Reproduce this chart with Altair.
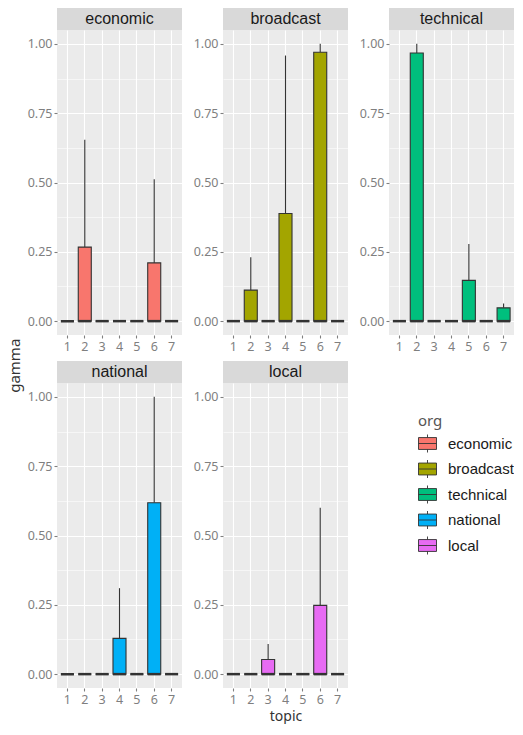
import altair as alt
import pandas as pd

orgs = ["economic", "broadcast", "technical", "national", "local"]
org_colors = ["#F8766D", "#A3A500", "#00BF7D", "#00B0F6", "#E76BF3"]
topics = [1, 2, 3, 4, 5, 6, 7]
y_ticks = [0, 0.125, 0.25, 0.375, 0.5, 0.625, 0.75, 0.875, 1.0]

# box statistics per org (q1 and median are 0 everywhere)
economic_q3 = [0, 0.267, 0, 0, 0, 0.210, 0]
economic_max = [0, 0.654, 0, 0, 0, 0.512, 0]
broadcast_q3 = [0, 0.112, 0, 0.388, 0, 0.970, 0]
broadcast_max = [0, 0.230, 0, 0.958, 0, 1.0, 0]
technical_q3 = [0, 0.967, 0, 0, 0.147, 0, 0.048]
technical_max = [0, 1.0, 0, 0, 0.278, 0, 0.064]
national_q3 = [0, 0, 0, 0.129, 0, 0.618, 0]
national_max = [0, 0, 0, 0.310, 0, 1.0, 0]
local_q3 = [0, 0, 0.053, 0, 0, 0.248, 0]
local_max = [0, 0, 0.109, 0, 0, 0.600, 0]
median_all = [0, 0, 0, 0, 0, 0, 0]
q1_all = [0, 0, 0, 0, 0, 0, 0]

stats = {
    "economic": (economic_q3, economic_max),
    "broadcast": (broadcast_q3, broadcast_max),
    "technical": (technical_q3, technical_max),
    "national": (national_q3, national_max),
    "local": (local_q3, local_max),
}

W = 125
H = 305
STRIP_H = 22
GRAY = "#7F7F7F"
DARK = "#333333"

major_test = "datum.value % 0.25 === 0"

legend_path = "M-1,-0.66H1V0.66H-1Z M-1,0H1 M0,-0.66V-1 M0,0.66V1"

color_scale = alt.Scale(domain=orgs, range=org_colors)
legend = alt.Legend(
    title="org", orient="none", legendX=361, legendY=406,
    symbolType=legend_path, symbolSize=324, symbolStrokeColor=DARK,
    symbolStrokeWidth=0.9, symbolOpacity=1,
    labelFont="Liberation Sans", labelFontSize=15, labelColor="#1A1A1A",
    labelOffset=11, rowPadding=2.5,
    titleFont="Noto Sans", titleFontSize=15, titleColor="#555555",
    titleFontWeight="normal", titlePadding=5,
)


def panel(org, x_title):
    q3, mx = stats[org]
    df = pd.DataFrame({
        "topic": topics, "q1": q1_all, "median": median_all,
        "q3": q3, "max": mx, "org": [org] * len(topics),
    })
    xscale = alt.Scale(domain=topics, paddingInner=0.25, paddingOuter=0.225)
    yscale = alt.Scale(domain=[-0.05, 1.05], nice=False, zero=False)
    xaxis = alt.Axis(
        title=x_title if x_title else None, labelAngle=0, bandPosition=0.5,
        domain=False, grid=True, gridColor="white", gridWidth=1.1,
        ticks=True, tickSize=3, tickColor=GRAY, tickWidth=1.1,
        labelFont="Noto Sans", labelFontSize=12.5, labelColor=GRAY,
        labelPadding=2, titleFont="Noto Sans", titleFontSize=14,
        titleColor=DARK, titleFontWeight="normal", titlePadding=4,
    )
    yaxis = alt.Axis(
        title=None, values=y_ticks, domain=False, grid=True, gridColor="white",
        gridWidth={"condition": {"test": major_test, "value": 1.1}, "value": 0.55},
        tickOpacity={"condition": {"test": major_test, "value": 1}, "value": 0},
        tickSize=3, tickColor=GRAY, tickWidth=1.1,
        labelExpr="datum.value % 0.25 === 0 ? format(datum.value, '.2f') : ''",
        labelFont="Noto Sans", labelFontSize=12.5, labelColor=GRAY, labelPadding=2,
    )
    x = alt.X("topic:O", scale=xscale, axis=xaxis)
    base = alt.Chart(df)
    whisker = base.transform_filter("datum.max > datum.q3").mark_rule(
        color=DARK, strokeWidth=1.1
    ).encode(x=x, y=alt.Y("q3:Q", scale=yscale, axis=yaxis), y2="max:Q")
    box = base.mark_bar(stroke=DARK, strokeWidth=1.1).encode(
        x=x,
        y=alt.Y("q3:Q", scale=yscale, axis=yaxis),
        y2="q1:Q",
        fill=alt.Fill("org:N", scale=color_scale, legend=legend),
    )
    med = base.mark_tick(color=DARK, thickness=2.5, size=13, opacity=1).encode(
        x=x, y=alt.Y("median:Q", scale=yscale, axis=yaxis)
    )
    plot = alt.layer(whisker, box, med).properties(
        width=W, height=H, view=alt.ViewBackground(fill="#EBEBEB", stroke=None)
    )
    strip = alt.Chart(pd.DataFrame({"org": [org]})).mark_text(
        font="Liberation Sans", fontSize=16, color="#1A1A1A"
    ).encode(text="org:N").properties(
        width=W, height=STRIP_H, view=alt.ViewBackground(fill="#D9D9D9", stroke=None)
    )
    return alt.vconcat(strip, plot, spacing=0)


row1 = alt.hconcat(panel("economic", None), panel("broadcast", None),
                   panel("technical", None), spacing=11)
row2 = alt.hconcat(panel("national", None), panel("local", "topic"), spacing=11)

chart = alt.vconcat(row1, row2, spacing=8).resolve_scale(color="shared").properties(
    title=alt.TitleParams("gamma", orient="left", anchor="middle", font="Noto Sans",
                          fontSize=15, color=DARK, fontWeight="normal", offset=4),
    padding=0,
).configure(background="white").configure_view(stroke=None)

chart.save("out.html", embed_options={"renderer": "svg", "actions": False})
